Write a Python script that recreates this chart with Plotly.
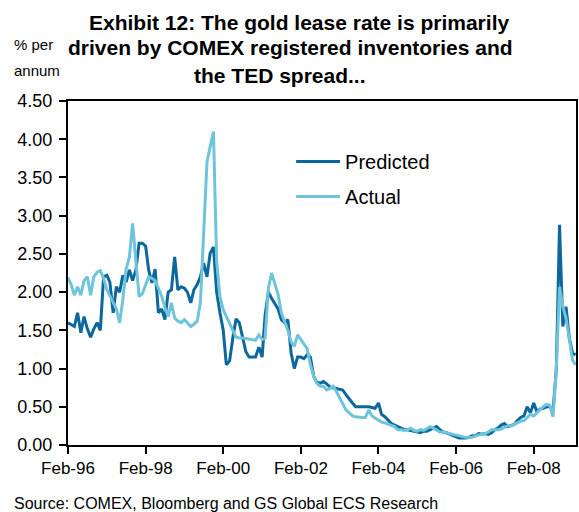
import plotly.graph_objects as go
import pandas as pd

# Monthly observations, Feb-1996 .. Mar-2009
dates = pd.date_range("1996-02-01", periods=158, freq="MS")

predicted = [
    1.60, 1.58, 1.55, 1.73, 1.47, 1.68, 1.52, 1.41, 1.52, 1.60, 1.50, 2.20,  # 96
    2.22, 2.13, 1.73, 2.07, 2.00, 2.22, 2.13, 2.29, 2.15, 2.29, 2.64, 2.64,  # 97
    2.60, 2.29, 2.12, 2.30, 1.73, 1.78, 1.64, 2.00, 2.03, 2.46, 2.03, 2.07,  # 98
    2.05, 2.00, 1.86, 2.03, 2.10, 2.20, 2.38, 2.20, 2.51, 2.59, 2.00, 1.73,  # 99
    1.50, 1.05, 1.10, 1.40, 1.65, 1.60, 1.40, 1.22, 1.15, 1.15, 1.15, 1.28,  # 00
    1.15, 1.70, 2.00, 1.92, 1.85, 1.78, 1.64, 1.60, 1.64, 1.20, 1.00, 1.15,  # 01
    1.15, 1.13, 1.18, 1.15, 0.90, 0.82, 0.81, 0.83, 0.80, 0.76, 0.75, 0.74,  # 02
    0.73, 0.72, 0.66, 0.60, 0.55, 0.50, 0.50, 0.50, 0.50, 0.50, 0.49, 0.48,  # 03
    0.55, 0.40, 0.37, 0.33, 0.28, 0.26, 0.24, 0.22, 0.20, 0.20, 0.19, 0.18,  # 04
    0.16, 0.16, 0.18, 0.18, 0.20, 0.22, 0.24, 0.20, 0.17, 0.16, 0.14, 0.13,  # 05
    0.10, 0.09, 0.09, 0.09, 0.10, 0.12, 0.12, 0.15, 0.14, 0.15, 0.14, 0.16,  # 06
    0.20, 0.22, 0.26, 0.28, 0.24, 0.26, 0.27, 0.32, 0.36, 0.38, 0.50, 0.42,  # 07
    0.55, 0.44, 0.47, 0.48, 0.50, 0.50, 0.45, 1.00, 2.88, 1.55, 1.81, 1.40,  # 08
    1.20, 1.18,                                                              # 09
]

actual = [
    2.19, 2.10, 1.96, 2.07, 1.96, 2.15, 2.20, 1.96, 2.20, 2.26, 2.28, 2.18,  # 96
    2.03, 1.95, 1.88, 1.78, 1.60, 1.90, 2.30, 2.46, 2.90, 2.42, 1.94, 1.98,  # 97
    2.10, 2.20, 2.18, 2.15, 2.05, 1.95, 1.80, 1.68, 1.86, 1.66, 1.62, 1.60,  # 98
    1.64, 1.60, 1.55, 1.58, 1.62, 1.86, 2.80, 3.70, 3.90, 4.10, 2.40, 1.94,  # 99
    1.77, 1.69, 1.60, 1.50, 1.41, 1.40, 1.40, 1.39, 1.38, 1.37, 1.37, 1.44,  # 00
    1.38, 1.40, 2.05, 2.25, 2.10, 1.97, 1.73, 1.62, 1.50, 1.35, 1.29, 1.44,  # 01
    1.38, 1.33, 1.26, 1.05, 0.90, 0.81, 0.77, 0.77, 0.72, 0.74, 0.77, 0.70,  # 02
    0.62, 0.56, 0.46, 0.42, 0.38, 0.37, 0.36, 0.36, 0.36, 0.46, 0.38, 0.35,  # 03
    0.33, 0.30, 0.29, 0.27, 0.26, 0.24, 0.20, 0.20, 0.19, 0.20, 0.22, 0.19,  # 04
    0.18, 0.20, 0.19, 0.21, 0.24, 0.22, 0.20, 0.17, 0.17, 0.16, 0.15, 0.14,  # 05
    0.13, 0.12, 0.11, 0.10, 0.10, 0.10, 0.12, 0.13, 0.14, 0.15, 0.17, 0.20,  # 06
    0.20, 0.20, 0.21, 0.23, 0.25, 0.25, 0.27, 0.30, 0.31, 0.32, 0.36, 0.40,  # 07
    0.38, 0.42, 0.46, 0.50, 0.53, 0.52, 0.37, 1.00, 2.07, 1.81, 1.66, 1.35,  # 08
    1.11, 1.05,                                                              # 09
]

title_lines = [
    "Exhibit 12: The gold lease rate is primarily",
    "driven by COMEX registered inventories and",
    "the TED spread...",
]
y_unit_lines = ["% per", "annum"]
source = "Source: COMEX, Bloomberg and GS Global ECS Research"

FONT = "Liberation Sans, Arial, sans-serif"
DARK = "#0B679C"
LIGHT = "#6EC4DB"

L, T, W, H = 68, 101, 510, 344


def px(x):
    return (x - L) / W


def py(y):
    return 1 - (y - T) / H


fig = go.Figure()
fig.add_trace(go.Scatter(x=dates, y=predicted, mode="lines", name="Predicted",
                         legendgroup="p", line=dict(color=DARK, width=3)))
fig.add_trace(go.Scatter(x=dates, y=actual, mode="lines", name="Actual",
                         legendgroup="a", line=dict(color=LIGHT, width=3)))

fig.update_layout(
    width=579, height=512,
    margin=dict(l=L, r=579 - L - W, t=T, b=512 - T - H),
    paper_bgcolor="white", plot_bgcolor="white",
    font=dict(family=FONT, size=17, color="black"),
    showlegend=True,
    legend=dict(x=px(292), y=py(142), xanchor="left", yanchor="top",
                bgcolor="rgba(0,0,0,0)", font=dict(size=20, color="black"),
                tracegroupgap=6, itemwidth=44),
    xaxis=dict(
        type="date",
        range=["1996-02-01", "2009-03-05"],
        tick0="1996-02-01", dtick="M24", tickformat="%b-%y",
        showgrid=False, zeroline=False,
        showline=True, linecolor="black", linewidth=2, mirror=True,
        ticks="outside", ticklen=7, tickwidth=1.5, tickcolor="black",
        tickfont=dict(size=17),
    ),
    yaxis=dict(
        range=[0, 4.5], dtick=0.5, tick0=0, tickformat=".2f",
        showgrid=False, zeroline=False,
        showline=True, linecolor="black", linewidth=2, mirror=True,
        ticks="outside", ticklen=7, tickwidth=1.5, tickcolor="black",
        tickfont=dict(size=18), ticklabelstandoff=3,
    ),
)

title_pos = [(300, 22), (291, 48), (281, 75)]
for txt, (tx, ty) in zip(title_lines, title_pos):
    fig.add_annotation(text=f"<b>{txt}</b>", xref="paper", yref="paper",
                       x=px(tx), y=py(ty),
                       xanchor="center", yanchor="middle", showarrow=False,
                       font=dict(size=21, family=FONT, color="black"))

for txt, ty in zip(y_unit_lines, [45, 70]):
    fig.add_annotation(text=txt, xref="paper", yref="paper",
                       x=px(12), y=py(ty),
                       xanchor="left", yanchor="middle", showarrow=False,
                       font=dict(size=15, family=FONT, color="black"))

fig.add_annotation(text=source, xref="paper", yref="paper",
                   x=px(12), y=py(503),
                   xanchor="left", yanchor="middle", showarrow=False,
                   font=dict(size=16, family=FONT, color="black"))

fig.write_html("out.html")
